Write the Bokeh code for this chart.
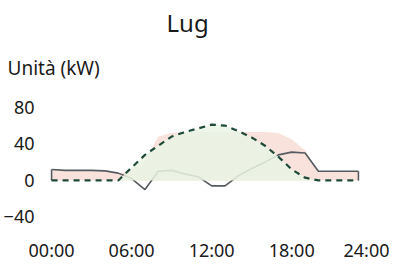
from bokeh.plotting import figure
from bokeh.models import Range1d, FixedTicker, Title
from bokeh.embed import file_html
from bokeh.resources import INLINE

hours = list(range(24))
pv = [0, 0, 0, 0, 0, 0, 14, 28, 38, 48, 53, 57, 61, 60, 54, 47, 38, 26, 12, 3, 0, 0, 0, 0]
grid = [12, 11, 11, 11, 10.5, 8, 2, -10, 10, 11, 7, 4, -6, -6, 5, 13, 20, 28, 31, 30, 10, 10, 10, 10]
load = [12, 11, 11, 11, 10.5, 8, 10, 22, 48, 52, 53, 53, 53, 53, 53, 53, 53, 52, 45, 33, 10, 10, 10, 10]
x_ticks = [0, 6, 12, 18, 24]
x_labels = {0: "00:00", 6: "06:00", 12: "12:00", 18: "18:00", 24: "24:00"}
y_ticks = [-40, 0, 40, 80]

FONT = "Noto Sans"

p = figure(width=389, height=264, output_backend="svg", toolbar_location=None,
           x_range=Range1d(-0.53, 24.58), y_range=Range1d(-49.3, 98.4),
           min_border_left=37, min_border_right=10, min_border_bottom=20, min_border_top=0)
p.background_fill_color = "white"
p.border_fill_color = "white"
p.outline_line_color = None
p.grid.visible = False

p.title.text = "Lug"
p.title.align = "left"
p.title.offset = 122
p.title.standoff = 7
p.title.text_font = FONT
p.title.text_font_size = "24px"
p.title.text_font_style = "normal"
p.title.text_color = "#1a1a1a"

unit = Title(text="Unità (kW)", align="left", text_font=FONT, text_font_size="19px",
             text_font_style="normal", text_color="#1a1a1a", offset=-37, standoff=20)
p.add_layout(unit, "above")

# fills and lines
p.varea(x=hours, y1=0, y2=load, fill_color="#f6dbd2", fill_alpha=0.8)
p.line(hours, grid, line_color="#555b60", line_width=1.6)
p.segment(x0=[hours[0], hours[-1]], y0=[0, 0], x1=[hours[0], hours[-1]], y1=[grid[0], grid[-1]],
          line_color="#555b60", line_width=1.6)
p.varea(x=hours, y1=0, y2=pv, fill_color="#eaf4e4", fill_alpha=0.85)
p.line(hours, pv, line_color="#1f4a3a", line_width=2.2, line_dash="6 5")

for ax in (p.xaxis[0], p.yaxis[0]):
    ax.axis_line_color = None
    ax.major_tick_line_color = None
    ax.minor_tick_line_color = None
    ax.major_tick_out = 0
    ax.major_tick_in = 0
    ax.minor_tick_out = 0
    ax.axis_label_standoff = 0
    ax.major_label_text_font = FONT
    ax.major_label_text_font_size = "18px"
    ax.major_label_text_color = "#1a1a1a"

p.xaxis.ticker = FixedTicker(ticks=x_ticks)
p.xaxis.major_label_overrides = x_labels
p.xaxis.major_label_standoff = 12
p.xaxis.major_label_text_line_height = 0.8
p.yaxis.ticker = FixedTicker(ticks=y_ticks)
p.yaxis.major_label_standoff = 10

open("out.html", "w").write(file_html(p, INLINE))
